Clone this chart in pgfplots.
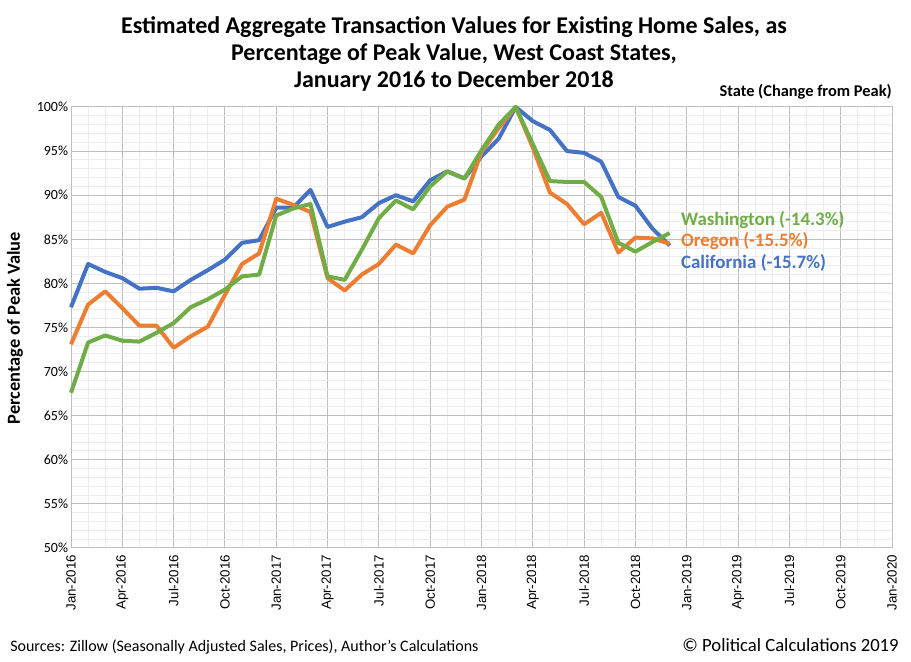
\documentclass[border=0pt]{standalone}
\usepackage{fontspec}
\usepackage{pgfplots}
\pgfplotsset{compat=1.18}
\setmainfont{Carlito}
\newfontfamily\arialf{Liberation Sans}
\definecolor{cblue}{RGB}{68,114,196}
\definecolor{corange}{RGB}{237,125,49}
\definecolor{cgreen}{RGB}{112,173,71}
\definecolor{gmaj}{RGB}{191,191,191}
\definecolor{gmin}{RGB}{236,236,236}
\begin{document}
\begin{tikzpicture}
\useasboundingbox (0,0) rectangle (683.25pt,495.75pt);
\begin{axis}[
  at={(53.25pt,84.75pt)}, anchor=south west,
  scale only axis, width=615.75pt, height=330.75pt,
  xmin=0, xmax=48, ymin=50, ymax=100,
  xtick={0,3,...,48},
  xticklabels={Jan-2016,Apr-2016,Jul-2016,Oct-2016,Jan-2017,Apr-2017,Jul-2017,Oct-2017,Jan-2018,Apr-2018,Jul-2018,Oct-2018,Jan-2019,Apr-2019,Jul-2019,Oct-2019,Jan-2020},
  minor x tick num=2,
  ytick={50,55,...,100},
  yticklabels={50\%,55\%,60\%,65\%,70\%,75\%,80\%,85\%,90\%,95\%,100\%},
  minor y tick num=4,
  grid=both,
  major grid style={draw=gmaj, line width=0.75pt},
  minor grid style={draw=gmin, line width=0.75pt},
  axis line style={draw=gmaj, line width=0.75pt},
  tick style={draw=none},
  x tick label style={font=\arialf\fontsize{10}{12}\selectfont, rotate=90, anchor=east, inner sep=1pt},
  y tick label style={font=\fontsize{10.5}{12}\selectfont, inner sep=1pt},
  xticklabel shift=4pt,
  yticklabel shift=1pt,
  clip=false,
]
\addplot[cblue, line width=3pt, line join=round] coordinates {
(0,77.3)(1,82.2)(2,81.3)(3,80.6)(4,79.4)(5,79.5)(6,79.1)(7,80.4)(8,81.5)(9,82.7)(10,84.6)(11,84.9)
(12,88.6)(13,88.6)(14,90.6)(15,86.4)(16,87.0)(17,87.5)(18,89.1)(19,90.0)(20,89.3)(21,91.7)(22,92.7)(23,91.9)
(24,94.4)(25,96.4)(26,100)(27,98.4)(28,97.4)(29,95.0)(30,94.8)(31,93.8)(32,89.8)(33,88.8)(34,86.2)(35,84.3)};
\addplot[corange, line width=3pt, line join=round] coordinates {
(0,73.1)(1,77.6)(2,79.1)(3,77.2)(4,75.2)(5,75.2)(6,72.7)(7,74.0)(8,75.1)(9,78.7)(10,82.2)(11,83.4)
(12,89.6)(13,88.9)(14,88.1)(15,80.6)(16,79.2)(17,81.0)(18,82.2)(19,84.4)(20,83.4)(21,86.6)(22,88.7)(23,89.5)
(24,94.9)(25,97.6)(26,100)(27,95.4)(28,90.3)(29,89.0)(30,86.7)(31,88.0)(32,83.5)(33,85.2)(34,85.1)(35,84.5)};
\addplot[cgreen, line width=3pt, line join=round] coordinates {
(0,67.6)(1,73.3)(2,74.1)(3,73.5)(4,73.4)(5,74.4)(6,75.5)(7,77.3)(8,78.2)(9,79.3)(10,80.8)(11,81.0)
(12,87.7)(13,88.5)(14,89.0)(15,80.8)(16,80.4)(17,83.8)(18,87.4)(19,89.4)(20,88.4)(21,91.0)(22,92.7)(23,91.9)
(24,95.1)(25,98.0)(26,100)(27,95.8)(28,91.6)(29,91.5)(30,91.5)(31,89.8)(32,84.6)(33,83.6)(34,84.7)(35,85.7)};
\node[anchor=west, text=cgreen, font=\bfseries\fontsize{14.2}{16}\selectfont, inner sep=0pt] at (axis cs:35.65,87.2) {Washington (-14.3\%)};
\node[anchor=west, text=corange, font=\bfseries\fontsize{14.2}{16}\selectfont, inner sep=0pt] at (axis cs:35.65,84.8) {Oregon (-15.5\%)};
\node[anchor=west, text=cblue, font=\bfseries\fontsize{14.2}{16}\selectfont, inner sep=0pt] at (axis cs:35.65,82.3) {California (-15.7\%)};
\end{axis}
\node[font=\bfseries\fontsize{18}{21}\selectfont] at (340.5pt,475.5pt) {Estimated Aggregate Transaction Values for Existing Home Sales, as};
\node[font=\bfseries\fontsize{18}{21}\selectfont] at (340.5pt,455.25pt) {Percentage of Peak Value, West Coast States,};
\node[font=\bfseries\fontsize{18}{21}\selectfont] at (340.5pt,435pt) {January 2016 to December 2018};
\node[anchor=east, font=\bfseries\fontsize{12.3}{14}\selectfont, inner sep=0pt] at (669pt,426.75pt) {State (Change from Peak)};
\node[rotate=90, font=\bfseries\fontsize{13.8}{15}\selectfont] at (11.25pt,249.75pt) {Percentage of Peak Value};
\node[anchor=west, font=\fontsize{12}{14}\selectfont, inner sep=0pt] at (7.5pt,10.5pt) {Sources: Zillow (Seasonally Adjusted Sales, Prices), Author's Calculations};
\node[anchor=east, font=\fontsize{14}{16}\selectfont, inner sep=0pt] at (674.25pt,12pt) {© Political Calculations 2019};
\end{tikzpicture}
\end{document}
